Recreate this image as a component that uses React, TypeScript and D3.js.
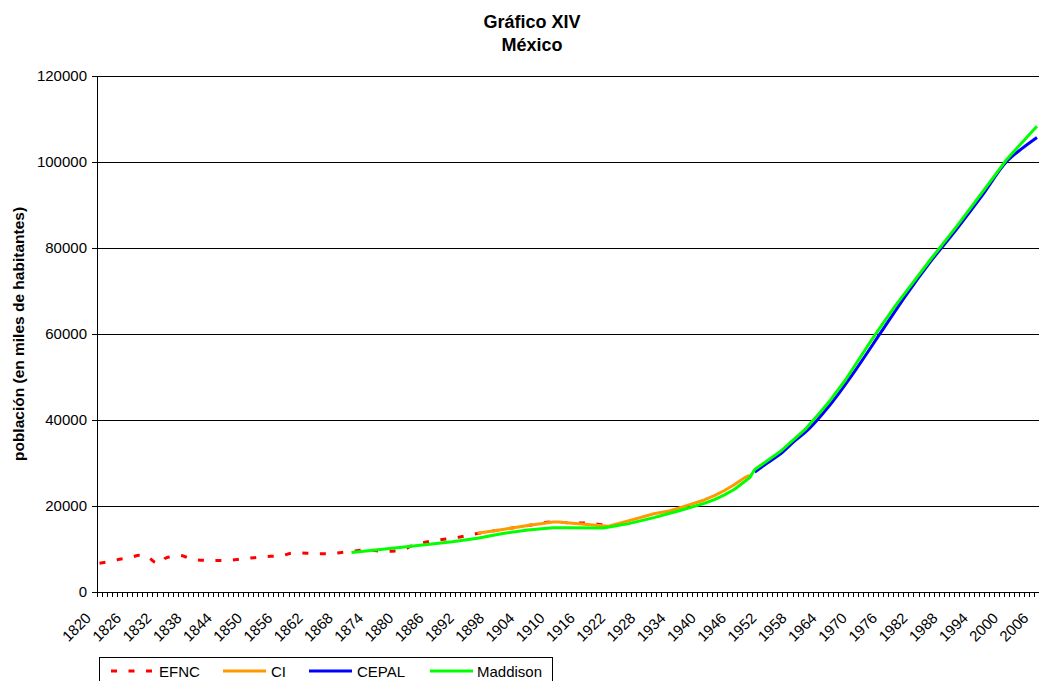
import React from 'react';
import * as d3 from 'd3';

// ---- Data (thousands of inhabitants) ----
const efncYears = [1820, 1822, 1824, 1826, 1828, 1829, 1830, 1831, 1832, 1833, 1834, 1836, 1837, 1838, 1840, 1842, 1844, 1846, 1848, 1850, 1852, 1854, 1856, 1858, 1860, 1862, 1864, 1866, 1868, 1870, 1872, 1874, 1876, 1878, 1880, 1882, 1884, 1886, 1888, 1890, 1892, 1894, 1895, 1900, 1905, 1910, 1913, 1917, 1921];
const efncValues = [6700, 7100, 7600, 8000, 8550, 8550, 7800, 6900, 6600, 7800, 8200, 8500, 8200, 7700, 7400, 7350, 7350, 7400, 7650, 7900, 8150, 8300, 8400, 9000, 9100, 8950, 8900, 8900, 9200, 9400, 9700, 9700, 9450, 9500, 9700, 10800, 11400, 11900, 12200, 12500, 12900, 13400, 13600, 14550, 15450, 16300, 16100, 16000, 15350];

const ciYears = [1895, 1900, 1905, 1910, 1911, 1915, 1921, 1926, 1930, 1933, 1936, 1940, 1942, 1944, 1946, 1948, 1949];
const ciValues = [13650, 14550, 15450, 16300, 16300, 15850, 15300, 16900, 18200, 18850, 19900, 21400, 22400, 23600, 25000, 26600, 27100];

const cepalYears = [1950, 1952, 1955, 1958, 1960, 1965, 1970, 1975, 1980, 1985, 1990, 1995, 2000, 2003, 2006];
const cepalValues = [27900, 29600, 32000, 35200, 37100, 43600, 51600, 60300, 69000, 77000, 84300, 92000, 100100, 103100, 105700];

const maddisonYears = [1870, 1880, 1890, 1895, 1900, 1905, 1910, 1913, 1920, 1925, 1930, 1935, 1940, 1942, 1944, 1946, 1948, 1949, 1950, 1952, 1955, 1958, 1960, 1963, 1965, 1968, 1970, 1973, 1975, 1978, 1980, 1985, 1990, 1995, 2000, 2003, 2006];
const maddisonValues = [9200, 10400, 11700, 12500, 13600, 14400, 14950, 14970, 14900, 15900, 17300, 18900, 20600, 21500, 22600, 23900, 25700, 26600, 28500, 30100, 32600, 35700, 37800, 41800, 44600, 49300, 52900, 58300, 61700, 66700, 69800, 77500, 84900, 92700, 100600, 104500, 108300];

const yTickValues = [0, 20000, 40000, 60000, 80000, 100000, 120000];
const xLabelYears = [1820, 1826, 1832, 1838, 1844, 1850, 1856, 1862, 1868, 1874, 1880, 1886, 1892, 1898, 1904, 1910, 1916, 1922, 1928, 1934, 1940, 1946, 1952, 1958, 1964, 1970, 1976, 1982, 1988, 1994, 2000, 2006];
const firstYear = 1820;
const lastYear = 2006;

const seriesNames = ['EFNC', 'CI', 'CEPAL', 'Maddison'];
const seriesColors = ['#ff0000', '#ff9900', '#0000ff', '#00ff00'];

const W = 1039;
const H = 681;
const FONT = '"Liberation Sans", Arial, sans-serif';

export default function App() {
  const left = 97;
  const top = 76;
  const bottom = 592;
  const catW = 5.04;
  const right = left + (lastYear - firstYear + 1) * catW;

  const x = d3.scaleLinear().domain([firstYear - 0.5, lastYear + 0.5]).range([left, right]);
  const y = d3.scaleLinear().domain([0, 120000]).range([bottom, top]);

  const mk = (years: number[], vals: number[], curve: d3.CurveFactory) =>
    d3.line<number>().x((_, i) => x(years[i])).y((v) => y(v)).curve(curve)(vals) || '';

  const paths = [
    mk(efncYears, efncValues, d3.curveMonotoneX),
    mk(ciYears, ciValues, d3.curveLinear),
    mk(cepalYears, cepalValues, d3.curveMonotoneX),
    mk(maddisonYears, maddisonValues, d3.curveLinear),
  ];

  const catBounds = d3.range(firstYear - 0.5, lastYear + 1, 1);

  const legendItems = [
    { lx: 111, tx: 159 },
    { lx: 223, tx: 271 },
    { lx: 309, tx: 357 },
    { lx: 430, tx: 477 },
  ];

  return (
    <svg width={W} height={H} style={{ position: 'absolute', left: 0, top: 0, background: '#fff' }} fontFamily={FONT}>
      <rect x={0} y={0} width={W} height={H} fill="#fff" />
      {/* Title */}
      <text x={532} y={28} textAnchor="middle" fontSize={18} fontWeight="bold">Gráfico XIV</text>
      <text x={532} y={51} textAnchor="middle" fontSize={18} fontWeight="bold">México</text>

      {/* Gridlines */}
      {yTickValues.filter((v) => v > 0).map((v) => (
        <line key={'g' + v} x1={left} x2={W} y1={Math.round(y(v)) + 0.5} y2={Math.round(y(v)) + 0.5} stroke="#000" strokeWidth={1} />
      ))}

      {/* Y axis */}
      <line x1={left + 0.5} x2={left + 0.5} y1={top} y2={bottom} stroke="#000" strokeWidth={1} />
      {yTickValues.map((v) => (
        <g key={'yt' + v}>
          <line x1={left - 5} x2={left} y1={Math.round(y(v)) + 0.5} y2={Math.round(y(v)) + 0.5} stroke="#000" />
          <text x={left - 10} y={y(v) + 5} textAnchor="end" fontSize={15}>{v}</text>
        </g>
      ))}

      {/* X axis */}
      <line x1={left} x2={W} y1={bottom + 0.5} y2={bottom + 0.5} stroke="#000" strokeWidth={1} />
      {catBounds.map((b) => (
        <line key={'xt' + b} x1={Math.round(x(b)) + 0.5} x2={Math.round(x(b)) + 0.5} y1={bottom} y2={bottom + 5} stroke="#000" />
      ))}
      {xLabelYears.map((yr) => {
        const ax = x(yr) - 7.5;
        const ay = 619;
        return (
          <text key={'xl' + yr} x={ax} y={ay} textAnchor="end" fontSize={15} transform={`rotate(-45 ${ax} ${ay})`}>{yr}</text>
        );
      })}

      {/* Y axis title */}
      <text transform={`translate(24 ${(top + bottom) / 2}) rotate(-90)`} textAnchor="middle" fontSize={15.5} fontWeight="bold">población (en miles de habitantes)</text>

      {/* Series */}
      <g fill="none" strokeWidth={3}>
        <path d={paths[0]} stroke={seriesColors[0]} strokeDasharray="6 11.5" strokeLinecap="butt" />
        <path d={paths[1]} stroke={seriesColors[1]} strokeLinejoin="round" />
        <path d={paths[2]} stroke={seriesColors[2]} strokeLinejoin="round" />
        <path d={paths[3]} stroke={seriesColors[3]} strokeLinejoin="round" />
      </g>

      {/* Legend */}
      <rect x={99.5} y={657.5} width={453} height={40} fill="#fff" stroke="#000" strokeWidth={1} />
      {legendItems.map((it, i) => (
        <g key={'lg' + i}>
          <line x1={it.lx} x2={it.lx + 43} y1={671} y2={671} stroke={seriesColors[i]} strokeWidth={3}
            strokeDasharray={i === 0 ? '6 11.5' : undefined} />
          <text x={it.tx} y={676.5} fontSize={15}>{seriesNames[i]}</text>
        </g>
      ))}
    </svg>
  );
}
